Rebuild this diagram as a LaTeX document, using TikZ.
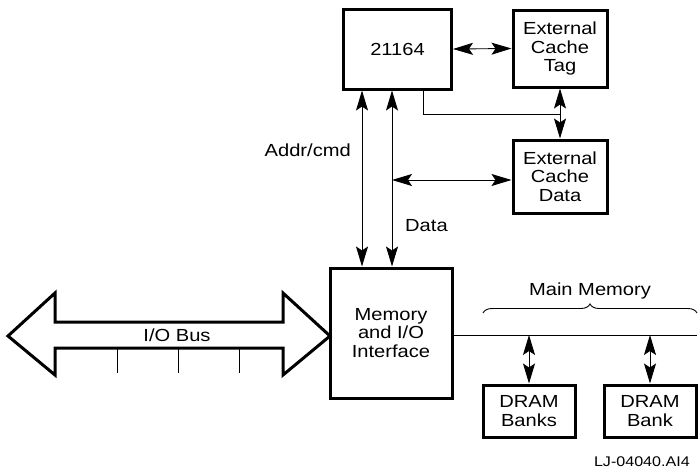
\documentclass[tikz,border=0pt]{standalone}
\usepackage{fontspec}
\setmainfont[FakeStretch=1.15]{Liberation Sans}
\usetikzlibrary{arrows.meta,decorations.pathreplacing,calc}
\begin{document}
\begin{tikzpicture}[x=1pt,y=-1pt,
  box/.style={draw,line width=3pt,align=center,inner sep=0pt,
    font=\fontsize{17.5}{18.5}\selectfont},
  dbl/.style={{Stealth[length=20pt,width=12pt,inset=4pt]}-{Stealth[length=20pt,width=12pt,inset=4pt]},line width=0.9pt},
  wire/.style={line width=0.9pt},
  lbl/.style={font=\fontsize{17.5}{18.5}\selectfont,inner sep=0pt}]
\useasboundingbox (0,0) rectangle (699,471);
% boxes
\node[box,minimum width=108pt,minimum height=80pt] (cpu) at (397.5,49) {21164};
\node[box,minimum width=94pt,minimum height=77pt] (tag) at (560,48.5) {External\\Cache\\Tag};
\node[box,minimum width=94pt,minimum height=73pt] (data) at (560,176.5) {External\\Cache\\Data};
\node[box,minimum width=122pt,minimum height=130pt] (mem) at (391,333) {Memory\\and I/O\\Interface};
\node[box,minimum width=92pt,minimum height=52pt] (banks) at (529,411) {DRAM\\Banks};
\node[box,minimum width=92pt,minimum height=52pt] (bank) at (650,411) {DRAM\\Bank};
% coordinates
\coordinate (tapx) at (423,0);
\coordinate (join) at (560,114);
\coordinate (addrx) at (362,0);
\coordinate (datax) at (392,0);
\coordinate (dj) at (392,180);
\coordinate (mm) at (697,335);
% connectors
\draw[dbl] (cpu.east) -- (tag.west);
\draw[dbl] (tag.south) -- (data.north);
\draw[wire] (cpu.south -| tapx) |- (join);
\draw[dbl] (cpu.south -| addrx) -- (mem.north -| addrx);
\draw[dbl] (cpu.south -| datax) -- (mem.north -| datax);
\draw[dbl] (dj) -- (dj -| data.west);
\draw[wire] (mem.east |- mm) -- (mm);
\draw[dbl] (banks.north |- mm) -- (banks.north);
\draw[dbl] (bank.north |- mm) -- (bank.north);
% brace
\coordinate (b1) at (483,313);
\coordinate (b2) at (697,313);
\draw[line width=0.9pt,decorate,decoration={brace,amplitude=9pt}] (b1) -- (b2)
  node[lbl,midway,above=13pt] (mmlbl) {Main Memory};
% labels
\node[lbl,anchor=east] (addr) at (351,150) {Addr/cmd};
\node[lbl,anchor=west] (datalbl) at (405,226) {Data};
\node[font=\fontsize{14}{15}\selectfont,inner sep=0pt,anchor=east] (id) at (690,462) {LJ-04040.AI4};
% I/O bus arrow
\draw[line width=3pt,line join=miter]
  (8,336) -- (55,293) -- (55,322) -- (283,322) -- (283,293) -- (330,336)
  -- (283,375) -- (283,348) -- (55,348) -- (55,375) -- cycle;
\node[lbl] (iobus) at (177,335) {I/O Bus};
\foreach \x in {117,178,239} \draw[wire] (\x,348) -- (\x,373);
\end{tikzpicture}
\end{document}
